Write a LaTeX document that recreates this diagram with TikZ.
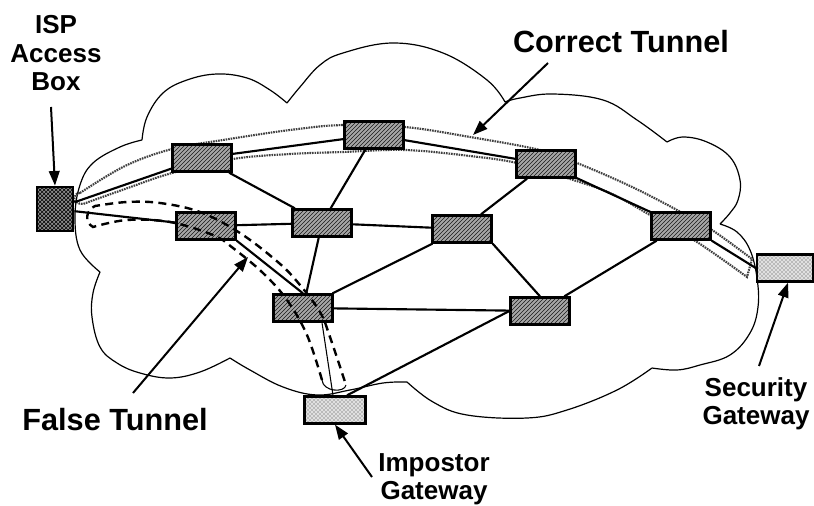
\documentclass[tikz,border=0pt]{standalone}
\usepackage{fontspec}
\setmainfont{Liberation Sans}
\usetikzlibrary{arrows.meta,patterns,calc}

\begin{document}
\begin{tikzpicture}[x=0.75pt,y=-0.75pt,
  box/.style={draw=black, line width=2pt, inner sep=0pt,
    minimum width=44pt, minimum height=20pt},
  router/.style={box, preaction={fill=black!35},
    pattern=north east lines, pattern color=black!90},
  access/.style={box, minimum width=27pt, minimum height=33pt,
    preaction={fill=black!45}, pattern=crosshatch, pattern color=black},
  gateway/.style={box, preaction={fill=black!12},
    pattern=crosshatch dots, pattern color=black!75},
  link/.style={line width=1.6pt},
  thinlink/.style={line width=0.8pt},
  cloud/.style={line width=0.9pt},
  tube/.style={draw=black!75, line width=1.6pt, dash pattern=on 1.2pt off 0.7pt},
  ftube/.style={line width=1.8pt, dash pattern=on 6pt off 4pt},
  ptr/.style={line width=1.5pt, -{Triangle[length=11pt,width=8pt]}},
  lbl/.style={inner sep=0pt, font=\bfseries\fontsize{19.5}{21.5}\selectfont},
  biglbl/.style={inner sep=0pt, font=\bfseries\fontsize{23}{27}\selectfont}]

\useasboundingbox (0,0) rectangle (814,506);

% the network cloud, one smooth arc per bump
\draw[cloud]
  plot[smooth, tension=0.65] coordinates {(142,140) (147,117) (163,93) (187,80) (217,74) (247,78) (270,90) (287,103)}
  plot[smooth, tension=0.65] coordinates {(287,103) (300,87) (320,65) (343,53) (393,43) (443,53) (487,80) (505,102)}
  plot[smooth, tension=0.65] coordinates {(505,102) (520,98) (553,94) (603,100) (637,120) (667,142)}
  plot[smooth, tension=0.65] coordinates {(667,142) (683,137) (707,142) (730,157) (740,180) (738,200) (730,213) (720,224)}
  plot[smooth, tension=0.65] coordinates {(720,224) (737,232) (750,250) (757,278) (758,307) (750,333) (730,355) (700,365) (677,370) (652,368)}
  plot[smooth, tension=0.65] coordinates {(652,368) (617,390) (567,410) (527,418) (467,415) (433,402) (407,382)}
  plot[smooth, tension=0.65] coordinates {(407,382) (383,383) (350,390) (317,395) (283,387) (250,370) (230,358)}
  plot[smooth, tension=0.65] coordinates {(230,358) (200,372) (170,378) (140,373) (117,363) (100,347) (92,317) (93,293) (100,272)}
  plot[smooth, tension=0.65] coordinates {(100,272) (80,250) (75,217) (80,185) (93,163) (120,147) (142,140)};

% the protected tunnel around the correct path
\draw[tube]
  plot[smooth, tension=0.6] coordinates {(80,193) (125,166) (172,149) (223,140) (290,130) (343,125) (405,127) (470,137) (540,150) (577,163) (630,186) (677,210) (712,230) (752,259)}
  -- plot[smooth, tension=0.6] coordinates {(747,277) (697,242) (650,215) (610,193) (567,178) (517,163) (470,156) (405,150) (343,152) (290,154) (233,159) (172,173) (125,189) (83,204)}
  .. controls (72,204) and (72,193) .. (80,193);

% boxes
\node[access]  (isp) at (55,209) {};
\node[router]  (r1)  at (202,158) {};
\node[router]  (r2)  at (206,226) {};
\node[router]  (r3)  at (374,135) {};
\node[router]  (r4)  at (322,223) {};
\node[router]  (r5)  at (462,229) {};
\node[router]  (r6)  at (546,164) {};
\node[router]  (r7)  at (681,226) {};
\node[router]  (r8)  at (303,308) {};
\node[router]  (r9)  at (540,311) {};
\node[gateway, minimum width=42pt] (sg)  at (785,268) {};
\node[gateway, minimum width=46pt] (imp) at (335,410) {};

% links
\draw[link] (isp) -- (r1);
\draw[link] (isp) -- (r2);
\draw[link] (r1) -- (r3);
\draw[link] (r1) -- (r4);
\draw[link] (r3) -- (r4);
\draw[link] (r3) -- (r6);
\draw[link] (r2) -- (r4);
\draw[link] (r2.south east) -- (r8.north);
\draw[link] (r4) -- (r5);
\draw[link] (r4) -- (r8);
\draw[link] (r5) -- (r6);
\draw[link] (r5) -- (r8);
\draw[link] (r5.south east) -- (r9.north);
\draw[link] (r6) -- (r7);
\draw[link] (r7) -- (r9);
\draw[link] (r7.south east) -- (sg.west);
\draw[link] (r8) -- (r9);
\draw[link] (r9.west) -- ($(imp.north)+(12,0)$);
\draw[thinlink] ($(r8.south)+(19,0)$) -- ($(imp.north)+(-2,0)$);

% the false tunnel towards the impostor
\draw[ftube]
  plot[smooth, tension=0.6] coordinates {(322,380) (307,335) (287,300) (263,273) (233,248) (213,235) (170,222) (127,220) (93,227)}
  .. controls (84,222) and (86,210) .. (95,206)
  -- plot[smooth, tension=0.6] coordinates {(95,206) (127,202) (160,203) (200,212) (240,233) (279,263) (300,285) (320,312) (330,337) (346,385)};
\draw[thinlink] (322,380) .. controls (323,392) and (345,393) .. (346,385);

% labels
\node[lbl, anchor=north, align=center] (isplbl) at (56,15) {ISP\\Access\\Box};
\node[biglbl, anchor=base] (ctlbl) at (621,53) {Correct Tunnel};
\node[biglbl, anchor=base] (ftlbl) at (115,430) {False Tunnel};
\node[lbl, anchor=north, align=center] (implbl) at (434,453) {Impostor\\Gateway};
\node[lbl, anchor=north, align=center] (sglbl) at (756,377) {Security\\Gateway};

% pointers
\coordinate (ispfrom) at (51,107);
\coordinate (ctfrom) at (548,63);
\coordinate (cttip) at (473,135);
\coordinate (ftfrom) at (133,393);
\coordinate (fttip) at (248,257);
\coordinate (impfrom) at (372,477);
\coordinate (sgfrom) at (759,366);
\draw[ptr] (ispfrom) -- (isp.north);
\draw[ptr] (ctfrom) -- (cttip);
\draw[ptr] (ftfrom) -- (fttip);
\draw[ptr] (impfrom) -- (imp.south);
\draw[ptr] (sgfrom) -- ($(sg.south)+(3,0)$);
\end{tikzpicture}
\end{document}
